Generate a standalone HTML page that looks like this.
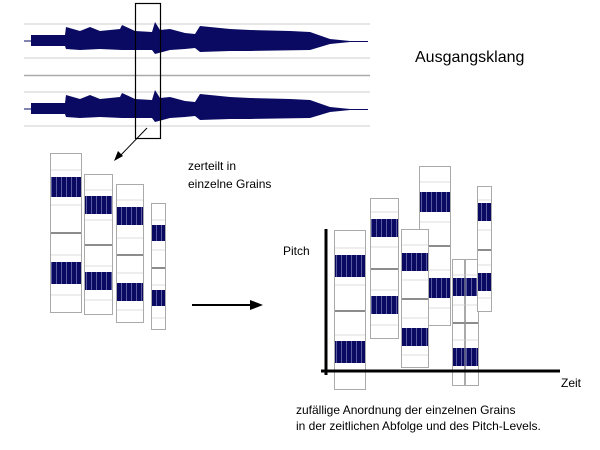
<!DOCTYPE html>
<html><head><style>
html,body{margin:0;padding:0;background:#fff;}
svg{display:block;font-family:"Liberation Sans","DejaVu Sans",sans-serif;}
</style></head><body>
<svg width="600" height="450" viewBox="0 0 600 450" xmlns="http://www.w3.org/2000/svg">
<defs>
<pattern id="sp" width="5" height="40" patternUnits="userSpaceOnUse">
<rect width="5" height="40" fill="#0a0a62"/>
<rect x="1" width="1" height="40" fill="#5a5aa0"/>
</pattern>
</defs>
<g stroke="#ddd" stroke-width="1.5">
<line x1="24" y1="24" x2="370" y2="24"/><line x1="24" y1="58" x2="370" y2="58"/>
<line x1="24" y1="92" x2="370" y2="92"/><line x1="24" y1="126" x2="370" y2="126"/>
</g>
<line x1="24" y1="75.5" x2="370" y2="75.5" stroke="#aaa" stroke-width="1.5"/>
<g fill="#0a0a62">
<path d="M31 35 L65 35 L66 27 L80 31 L90 27 L100 31 L120 29 L122 25 L135 31 L152 32 L155 22 L160 30 L170 29 L185 33 L195 34 L200 26 L230 29 L250 30 L290 31 L310 32 L330 39 L350 41 L368 41 L368 42 L350 42 L330 44 L310 50 L250 51 L230 51 L200 52 L195 48 L185 49 L170 50 L155 54 L152 50 L135 50 L122 50 L100 49 L80 50 L66 49 L65 46 L31 46Z"/>
<path d="M31 103 L65 103 L66 95 L80 99 L90 95 L100 99 L120 97 L122 93 L135 99 L152 100 L155 90 L160 98 L170 97 L185 101 L195 102 L200 94 L230 97 L250 98 L290 99 L310 100 L330 107 L350 109 L368 109 L368 110 L350 110 L330 112 L310 118 L250 119 L230 119 L200 120 L195 116 L185 117 L170 118 L155 122 L152 118 L135 118 L122 118 L100 117 L80 118 L66 117 L65 114 L31 114Z"/>
</g>
<g stroke="#0a0a62" stroke-width="1">
<line x1="24" y1="41" x2="31" y2="41"/><line x1="24" y1="109" x2="31" y2="109"/>
</g>
<rect x="135.5" y="3.5" width="25" height="135" fill="none" stroke="#000" stroke-width="1.2"/>
<line x1="147" y1="128" x2="119" y2="157" stroke="#000" stroke-width="1"/>
<path d="M114 161 L118 151 L123 156Z" fill="#000"/>
<text x="415" y="62" font-size="16" fill="#000">Ausgangsklang</text>

<!-- grain helper groups -->
<g id="g1"><rect x="50.5" y="153.5" width="31" height="159" fill="#fff" stroke="#aaa"/>
<path d="M51 170H81M51 205H81M51 255H81M51 295H81" stroke="#ddd"/><path d="M51 233H81" stroke="#666" stroke-width="1.5"/>
<rect x="51" y="177" width="30" height="20" fill="url(#sp)"/><rect x="51" y="262" width="30" height="22" fill="url(#sp)"/></g>
<g><rect x="84.5" y="174.5" width="28" height="140" fill="#fff" stroke="#aaa"/>
<path d="M85 190H112M85 220H112M85 266H112M85 300H112" stroke="#ddd"/><path d="M85 245H112" stroke="#666" stroke-width="1.5"/>
<rect x="85" y="196" width="27" height="18" fill="url(#sp)"/><rect x="85" y="272" width="27" height="18" fill="url(#sp)"/></g>
<g><rect x="116.5" y="184.5" width="27" height="138" fill="#fff" stroke="#aaa"/>
<path d="M117 200H143M117 238H143M117 273H143M117 310H143" stroke="#ddd"/><path d="M117 255H143" stroke="#666" stroke-width="1.5"/>
<rect x="117" y="207" width="26" height="18" fill="url(#sp)"/><rect x="117" y="283" width="26" height="18" fill="url(#sp)"/></g>
<g><rect x="151.5" y="203.5" width="14" height="126" fill="#fff" stroke="#aaa"/>
<path d="M152 220H165M152 250H165M152 285H165M152 318H165" stroke="#ddd"/><path d="M152 268H165" stroke="#666" stroke-width="1.5"/>
<rect x="152" y="225" width="13" height="16" fill="url(#sp)"/><rect x="152" y="290" width="13" height="16" fill="url(#sp)"/></g>

<!-- right grains (order matters) -->
<g><rect x="419.5" y="166.5" width="31" height="159" fill="#fff" stroke="#aaa"/>
<path d="M420 182H450M420 222H450M420 270H450M420 308H450" stroke="#ddd"/><path d="M420 246H450" stroke="#666" stroke-width="1.5"/>
<rect x="420" y="192" width="30" height="20" fill="url(#sp)"/><rect x="420" y="278" width="30" height="20" fill="url(#sp)"/></g>
<g><rect x="334.5" y="230.5" width="31" height="159" fill="#fff" stroke="#aaa"/>
<path d="M335 248H365M335 285H365M335 335H365M335 372H365" stroke="#ddd"/><path d="M335 311H365" stroke="#666" stroke-width="1.5"/>
<rect x="335" y="255" width="30" height="22" fill="url(#sp)"/><rect x="335" y="341" width="30" height="22" fill="url(#sp)"/></g>
<g><rect x="370.5" y="198.5" width="28" height="140" fill="#fff" stroke="#aaa"/>
<path d="M371 212H398M371 247H398M371 290H398M371 325H398" stroke="#ddd"/><path d="M371 269H398" stroke="#666" stroke-width="1.5"/>
<rect x="371" y="219" width="27" height="18" fill="url(#sp)"/><rect x="371" y="296" width="27" height="18" fill="url(#sp)"/></g>
<g><rect x="401.5" y="229.5" width="27" height="138" fill="#fff" stroke="#aaa"/>
<path d="M402 245H428M402 280H428M402 318H428M402 355H428" stroke="#ddd"/><path d="M402 299H428" stroke="#666" stroke-width="1.5"/>
<rect x="402" y="253" width="26" height="18" fill="url(#sp)"/><rect x="402" y="328" width="26" height="18" fill="url(#sp)"/></g>
<g><rect x="452.5" y="259.5" width="12" height="126" fill="#fff" stroke="#aaa"/><rect x="465.5" y="259.5" width="13" height="126" fill="#fff" stroke="#aaa"/>
<path d="M453 275H478M453 305H478M453 340H478M453 372H478" stroke="#ddd"/><path d="M453 323H478" stroke="#666" stroke-width="1.5"/>
<rect x="453" y="278" width="25" height="18" fill="url(#sp)"/><rect x="453" y="348" width="25" height="18" fill="url(#sp)"/>
<line x1="465" y1="260" x2="465" y2="385" stroke="#aaa"/></g>
<g><rect x="477.5" y="186.5" width="14" height="125" fill="#fff" stroke="#aaa"/>
<path d="M478 200H491M478 230H491M478 265H491M478 298H491" stroke="#ddd"/><path d="M478 250H491" stroke="#666" stroke-width="1.5"/>
<rect x="478" y="203" width="13" height="18" fill="url(#sp)"/><rect x="478" y="273" width="13" height="18" fill="url(#sp)"/></g>

<text x="188" y="170" font-size="12" fill="#000">zerteilt in</text>
<text x="188" y="188" font-size="12" fill="#000">einzelne Grains</text>

<line x1="192" y1="305" x2="254" y2="305" stroke="#000" stroke-width="2"/>
<path d="M263 305 L250 300 L250 310Z" fill="#000"/>

<line x1="326" y1="229" x2="326" y2="375" stroke="#000" stroke-width="3"/>
<line x1="321" y1="371" x2="560" y2="371" stroke="#000" stroke-width="3"/>
<text x="283" y="255" font-size="12" fill="#000">Pitch</text>
<text x="561" y="387" font-size="12" fill="#000">Zeit</text>
<text x="296" y="414" font-size="12" fill="#000">zufällige Anordnung der einzelnen Grains</text>
<text x="296" y="430" font-size="12" fill="#000">in der zeitlichen Abfolge und des Pitch-Levels.</text>
</svg>
</body></html>
